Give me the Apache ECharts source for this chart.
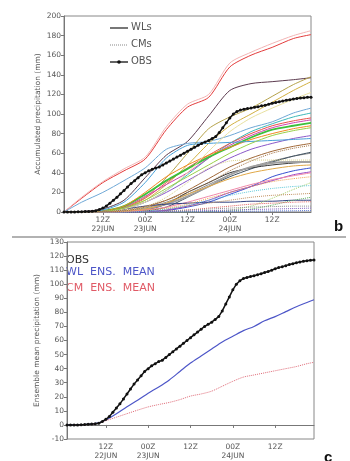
<!DOCTYPE html>
<html>
<head>
<meta charset="utf-8">
<script src="https://cdn.jsdelivr.net/npm/echarts@6/dist/echarts.min.js"></script>
<style>
  html, body { margin: 0; padding: 0; background: #fff; }
  #chart { width: 350px; height: 461px; }
</style>
</head>
<body>
<div id="chart"></div>
<script>
// hours since 00Z 22JUN
const memberHours = [1, 6, 12, 18, 24, 30, 36, 42, 48, 54, 60, 66, 71];
const tickHours = [12, 24, 36, 48, 60];
const tickNames = ['12Z\n22JUN', '00Z\n23JUN', '12Z', '00Z\n24JUN', '12Z'];

// WL members (solid lines), values at memberHours
const wlValues = [
  [0, 14, 30, 42, 54, 84, 107, 117, 148, 160, 168, 177, 181],
  [0, 15, 31, 44, 56, 87, 110, 120, 152, 163, 172, 180, 185],
  [0, 0.5, 3, 12, 35, 58, 72, 98, 124, 131, 133, 135, 137],
  [0, 10, 20, 32, 45, 64, 70, 72, 78, 86, 92, 101, 106],
  [0, 0, 1, 5, 15, 35, 60, 85, 97, 106, 118, 130, 138],
  [0, 0, 1, 4, 12, 28, 48, 70, 88, 100, 112, 124, 133],
  [0, 0, 0.5, 3, 10, 22, 38, 55, 70, 82, 90, 97, 101],
  [0, 0, 0.5, 4, 14, 30, 45, 58, 70, 80, 88, 93, 96],
  [0, 0, 1, 5, 16, 28, 40, 55, 68, 78, 86, 91, 94],
  [0, 0, 1, 6, 18, 32, 44, 56, 66, 76, 84, 88, 91],
  [0, 0, 1, 6, 20, 36, 48, 58, 66, 74, 80, 85, 88],
  [0, 0, 0.5, 3, 10, 20, 32, 44, 55, 64, 70, 75, 78],
  [0, 0, 2, 10, 30, 55, 68, 70, 71, 72, 73, 74, 75],
  [0, 0, 0, 1, 4, 10, 18, 28, 38, 46, 52, 57, 60],
  [0, 0, 0, 0, 1, 5, 15, 26, 36, 44, 51, 57, 61],
  [0, 0, 0, 0, 2, 8, 20, 30, 40, 45, 48, 50, 51],
  [0, 0, 0, 0.5, 3, 8, 16, 26, 38, 46, 50, 51, 51],
  [0, 0, 0, 0.5, 3, 9, 18, 26, 34, 40, 44, 47, 48],
  [0, 0, 0, 0, 0.5, 1.5, 5, 10, 18, 26, 36, 42, 45],
  [0, 0, 0, 0, 0.5, 2, 6, 12, 20, 26, 32, 38, 41],
  [0, 0, 0, 0.5, 2, 5, 10, 16, 22, 28, 33, 37, 40],
  [0, 0, 0.5, 3, 6, 8, 9, 10, 10, 11, 11, 12, 12],
  [0, 0, 0.5, 3, 10, 22, 40, 62, 82, 96, 106, 115, 122],
  [0, 0, 0.5, 4, 12, 24, 36, 48, 60, 70, 78, 83, 86],
  [0, 0, 0, 1, 5, 12, 22, 34, 46, 55, 62, 67, 70]
];
const wlColors = ['#e33b3b', '#f2b4b4', '#5b3a4e', '#6fa8d6', '#b5a24a', '#d2b040', '#3cb8b8',
  '#e8504a', '#d040b0', '#3cc03c', '#f08a20', '#8a58c8', '#48a0d8', '#8c8c8c', '#3e5060',
  '#333333', '#a0a0a0', '#e0a848', '#3850d0', '#9448c8', '#f088a8', '#304080', '#e8e0a0',
  '#98d048', '#a06838'];

// CM members (dotted lines)
const cmValues = [
  [0, 0, 0, 1, 5, 15, 30, 45, 52, 53, 53, 53, 53],
  [0, 0, 0, 0, 0, 0, 0.5, 1, 2, 6, 14, 23, 30],
  [0, 0, 0, 0, 0, 0, 0, 0.5, 1, 3, 7, 12, 15],
  [0, 0, 0, 0, 0.5, 1, 2, 4, 6, 8, 9, 10, 10.5],
  [0, 0, 0, 0.5, 1, 3, 6, 9, 12, 15, 17, 18, 19],
  [0, 0, 0, 0, 0, 0.5, 1, 1.5, 2, 2.5, 3, 3.5, 4],
  [0, 0, 0, 0, 0.5, 1, 2, 3, 4, 5, 5.5, 6, 6],
  [0, 0, 0, 0, 0, 0, 0.2, 0.4, 0.6, 0.8, 1, 1.2, 1.5],
  [0, 0, 0, 0, 1, 3, 7, 12, 17, 21, 24, 26, 27],
  [0, 0, 0, 0.5, 2, 4, 8, 14, 20, 26, 31, 34, 36],
  [0, 0, 0.5, 2, 6, 12, 20, 30, 42, 52, 60, 65, 68]
];
const cmColors = ['#d8d088', '#a8d070', '#60b060', '#e06060', '#c09060', '#8060c0',
  '#909090', '#5070d0', '#60c8d8', '#f0a050', '#a07040'];

// OBS, hourly from 01Z 22JUN
const obsValues = [
  0, 0, 0, 0, 0.2, 0.3, 0.5, 0.6, 0.8, 1.2, 2.5, 4,
  6, 9, 12, 15, 18.5, 22, 25.5, 29, 32, 35, 38, 40,
  42, 43.5, 45, 46, 48, 50, 52, 54, 56, 58, 60, 62,
  64, 66, 68, 70, 71.5, 73, 75, 77, 81, 86, 91, 96,
  100, 102.5, 104, 104.8, 105.5, 106, 106.8, 107.5, 108.3, 109, 110, 111,
  111.8, 112.5, 113.2, 114, 114.6, 115.2, 115.8, 116.3, 116.7, 117, 117.2
];

// ensemble means
const meanHours = [1, 6, 10, 12, 15, 18, 21, 24, 27, 30, 33, 36, 39, 42, 45, 48, 51, 54, 57, 60, 63, 66, 69, 71];
const wlMean = [0, 0.3, 1.5, 3.5, 8, 13, 17.5, 22.5, 27, 32, 38, 44, 49, 54, 59, 63, 67, 70, 74, 77, 80.5, 84, 87, 89];
const cmMean = [0, 0.2, 1.2, 3, 5.5, 8, 10.5, 12.8, 14.5, 16, 18, 20.5, 22, 24, 27.5, 31, 34, 35.5, 37, 38.5, 40, 41.5, 43.5, 44.5];

const FONT = 'DejaVu Sans';
const pair = (hs, vs) => hs.map((h, i) => [h, vs[i]]);
const obsData = obsValues.map((v, i) => [i + 1, v]);

function xAxis(gi) {
  return {
    gridIndex: gi, type: 'value', min: 1, max: 71,
    axisLine: { show: true, lineStyle: { color: '#777', width: 1 } },
    axisTick: { show: true, customValues: tickHours, length: 3, lineStyle: { color: '#777' } },
    axisLabel: {
      customValues: tickHours, fontSize: 7.5, color: '#555', fontFamily: FONT, margin: 4, lineHeight: 9,
      formatter: v => tickNames[tickHours.indexOf(v)] || ''
    },
    splitLine: { show: false }
  };
}
function yAxis(gi, min, max, step, name, gap) {
  return {
    gridIndex: gi, type: 'value', min: min, max: max, interval: step,
    name: name, nameLocation: 'middle', nameGap: gap, nameMoveOverlap: false,
    nameTextStyle: { fontSize: 7.5, color: '#555', fontFamily: FONT },
    axisLine: { show: true, lineStyle: { color: '#777' } },
    axisTick: { show: true, length: 3, lineStyle: { color: '#777' } },
    axisLabel: { fontSize: 7.5, color: '#555', fontFamily: FONT, margin: 3 },
    splitLine: { show: false }
  };
}

const series = [];
wlValues.forEach((vals, i) => series.push({
  type: 'line', xAxisIndex: 0, yAxisIndex: 0, data: pair(memberHours, vals),
  showSymbol: false, smooth: 0.25, silent: true,
  lineStyle: { color: wlColors[i], width: (i === 9 || i === 16) ? 1.8 : 1 }
}));
cmValues.forEach((vals, i) => series.push({
  type: 'line', xAxisIndex: 0, yAxisIndex: 0, data: pair(memberHours, vals),
  showSymbol: false, smooth: 0.25, silent: true,
  lineStyle: { color: cmColors[i], width: 1, type: 'dotted' }
}));
[0, 1].forEach(gi => series.push({
  type: 'line', xAxisIndex: gi, yAxisIndex: gi, data: obsData, z: 5,
  symbol: 'circle', symbolSize: 3, showSymbol: true, silent: true,
  itemStyle: { color: '#111' }, lineStyle: { color: '#111', width: 1.5 }
}));
series.push({
  type: 'line', xAxisIndex: 1, yAxisIndex: 1, data: pair(meanHours, wlMean),
  showSymbol: false, smooth: 0.3, silent: true, lineStyle: { color: '#4d56c8', width: 1.2 }
});
series.push({
  type: 'line', xAxisIndex: 1, yAxisIndex: 1, data: pair(meanHours, cmMean),
  showSymbol: false, smooth: 0.3, silent: true, lineStyle: { color: '#e06b78', width: 1, type: 'dotted' }
});

const legendText = (txt, x, y, color, size) => ({
  type: 'text', left: x, top: y - size * 0.6,
  style: { text: txt, fill: color, font: size + 'px "' + FONT + '"' }
});

const chart = echarts.init(document.getElementById('chart'));
chart.setOption({
  animation: false,
  backgroundColor: '#fff',
  grid: [
    { left: 64, top: 16, width: 247, height: 196, show: true, borderColor: '#888', borderWidth: 1, backgroundColor: 'transparent' },
    { left: 67, top: 242, width: 247, height: 198, show: true, borderColor: '#888', borderWidth: 1, backgroundColor: 'transparent' }
  ],
  xAxis: [xAxis(0), xAxis(1)],
  yAxis: [
    yAxis(0, 0, 200, 20, 'Accumulated precipitation (mm)', 22),
    yAxis(1, -10, 130, 10, 'Ensemble mean precipitation (mm)', 26)
  ],
  series: series,
  graphic: [
    { type: 'line', shape: { x1: 12, y1: 237, x2: 346, y2: 237 }, style: { stroke: '#999', lineWidth: 1.5 } },
    { type: 'line', shape: { x1: 110, y1: 28, x2: 128, y2: 28 }, style: { stroke: '#555', lineWidth: 1.6 } },
    { type: 'line', shape: { x1: 110, y1: 45, x2: 128, y2: 45 }, style: { stroke: '#888', lineWidth: 1, lineDash: [1, 1] } },
    { type: 'line', shape: { x1: 110, y1: 62, x2: 128, y2: 62 }, style: { stroke: '#222', lineWidth: 1.4 } },
    { type: 'circle', shape: { cx: 119, cy: 62, r: 1.8 }, style: { fill: '#111' } },
    legendText('WLs', 131, 28, '#555', 10),
    legendText('CMs', 131, 45, '#555', 10),
    legendText('OBS', 131, 62, '#555', 10),
    legendText('OBS', 66, 261, '#333', 11),
    legendText('WL  ENS.  MEAN', 66, 273, '#4d56c8', 11),
    legendText('CM  ENS.  MEAN', 66, 289, '#e05a66', 11),
    { type: 'text', left: 334, top: 219, style: { text: 'b', fill: '#111', font: 'bold 15px "Liberation Sans"' } },
    { type: 'text', left: 324, top: 450, style: { text: 'c', fill: '#111', font: 'bold 15px "Liberation Sans"' } }
  ]
});
</script>
</body>
</html>
